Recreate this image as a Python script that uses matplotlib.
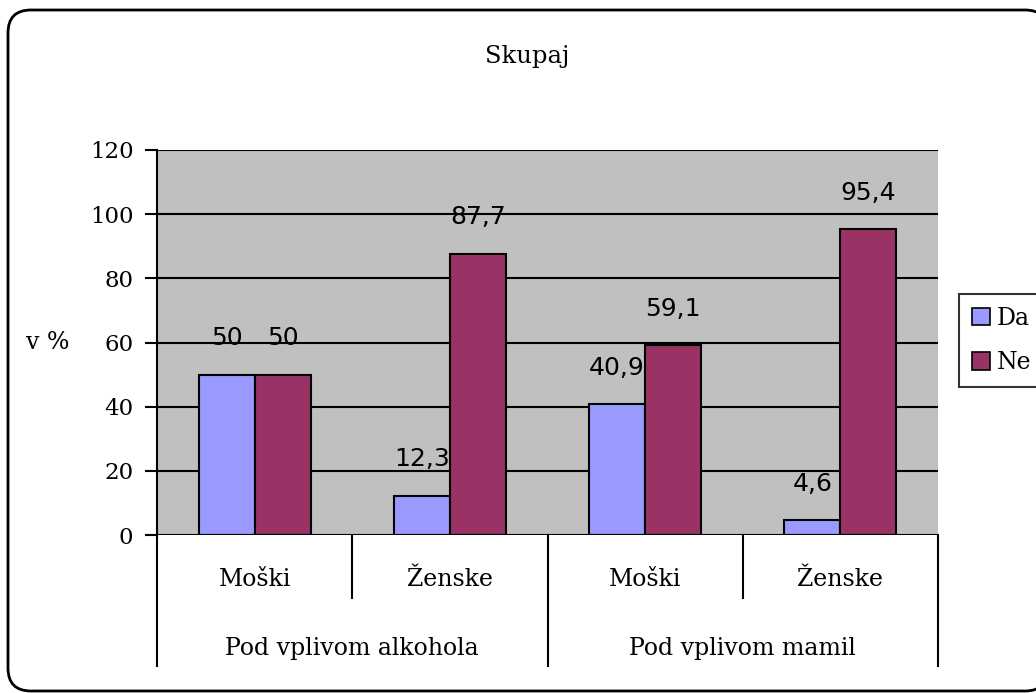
import matplotlib
matplotlib.use("Agg")
import matplotlib.pyplot as plt
from matplotlib.patches import FancyBboxPatch, Rectangle
import numpy as np

subcats = ["Moški", "Ženske", "Moški", "Ženske"]
groups = ["Pod vplivom alkohola", "Pod vplivom mamil"]
series = ["Da", "Ne"]
da = [50, 12.3, 40.9, 4.6]
ne = [50, 87.7, 59.1, 95.4]
yticks = [0, 20, 40, 60, 80, 100, 120]
colors = ["#9999FF", "#993366"]

W, H = 1036, 693
fig = plt.figure(figsize=(W / 100, H / 100), dpi=100)
serif = "DejaVu Serif"
sans = "DejaVu Sans"

# rounded outer frame
frame = FancyBboxPatch((8, 2), 1040, 681, boxstyle="round,pad=0,rounding_size=23",
                       transform=None, facecolor="white", edgecolor="black", linewidth=2, zorder=-10)
fig.patches.append(frame)

ax = fig.add_axes([157 / W, 1 - 535 / H, (938 - 157) / W, (535 - 150) / H])
ax.set_facecolor("#C0C0C0")
x = np.arange(len(subcats))
bw = 0.287
ax.bar(x - bw / 2, da, bw, color=colors[0], edgecolor="black", linewidth=1.5, zorder=3)
ax.bar(x + bw / 2, ne, bw, color=colors[1], edgecolor="black", linewidth=1.5, zorder=3)

def fmt(v):
    s = ("%g" % v).replace(".", ",")
    return s

for xi, v in zip(x - bw / 2, da):
    ax.text(xi, v + 11.3, fmt(v), ha="center", va="center", fontsize=18, family=sans, zorder=4)
for xi, v in zip(x + bw / 2, ne):
    ax.text(xi, v + 11.3, fmt(v), ha="center", va="center", fontsize=18, family=sans, zorder=4)

ax.set_xlim(-0.5, len(subcats) - 0.5)
ax.set_ylim(0, 120)
ax.set_yticks(yticks)
ax.set_yticklabels([str(t) for t in yticks], fontsize=16.5, family=serif)
for t in yticks[1:]:
    ax.axhline(t, color="black", linewidth=1.5, zorder=1)
ax.axhline(0, color="black", linewidth=1.5, zorder=5)
ax.tick_params(axis="y", length=9, width=1.5, pad=8)
ax.set_xticks([])
for s in ["top", "right", "bottom"]:
    ax.spines[s].set_visible(False)
ax.spines["left"].set_linewidth(1.5)

# multi-level category axis
tr = ax.get_xaxis_transform()
inner = -(598 - 535) / 385
outer = -(666 - 535) / 385
for b in [0.5, 2.5]:
    ax.plot([b, b], [0, inner], transform=tr, color="black", lw=1.5, clip_on=False)
for b in [-0.5, 1.5, 3.5]:
    ax.plot([b, b], [0, outer], transform=tr, color="black", lw=1.5, clip_on=False)
for xi, lab in zip(x, subcats):
    ax.text(xi, -(580 - 535) / 385, lab, transform=tr, ha="center", va="center",
            fontsize=17, family=serif)
for gi, g in enumerate(groups):
    ax.text(2 * gi + 0.5, -(648 - 535) / 385, g, transform=tr, ha="center", va="center",
            fontsize=17, family=serif)

ax.text(-0.14, 0.5, "v %", transform=ax.transAxes, ha="center", va="center",
        fontsize=17, family=serif)

fig.text(527 / W, 1 - 57 / H, "Skupaj", ha="center", va="center", fontsize=17.5, family=serif)

handles = [Rectangle((0, 0), 1, 1, facecolor=c, edgecolor="black", linewidth=1.2) for c in colors]
leg = fig.legend(handles, series, loc="upper left", bbox_to_anchor=(959 / W, 1 - 294 / H),
                 frameon=True, fancybox=False, edgecolor="black", borderaxespad=0,
                 prop={"family": serif, "size": 17}, handlelength=0.75, handleheight=0.75,
                 handletextpad=0.3, labelspacing=0.9, borderpad=0.55)
leg.get_frame().set_linewidth(1.5)

fig.savefig("out.png", dpi=100)
